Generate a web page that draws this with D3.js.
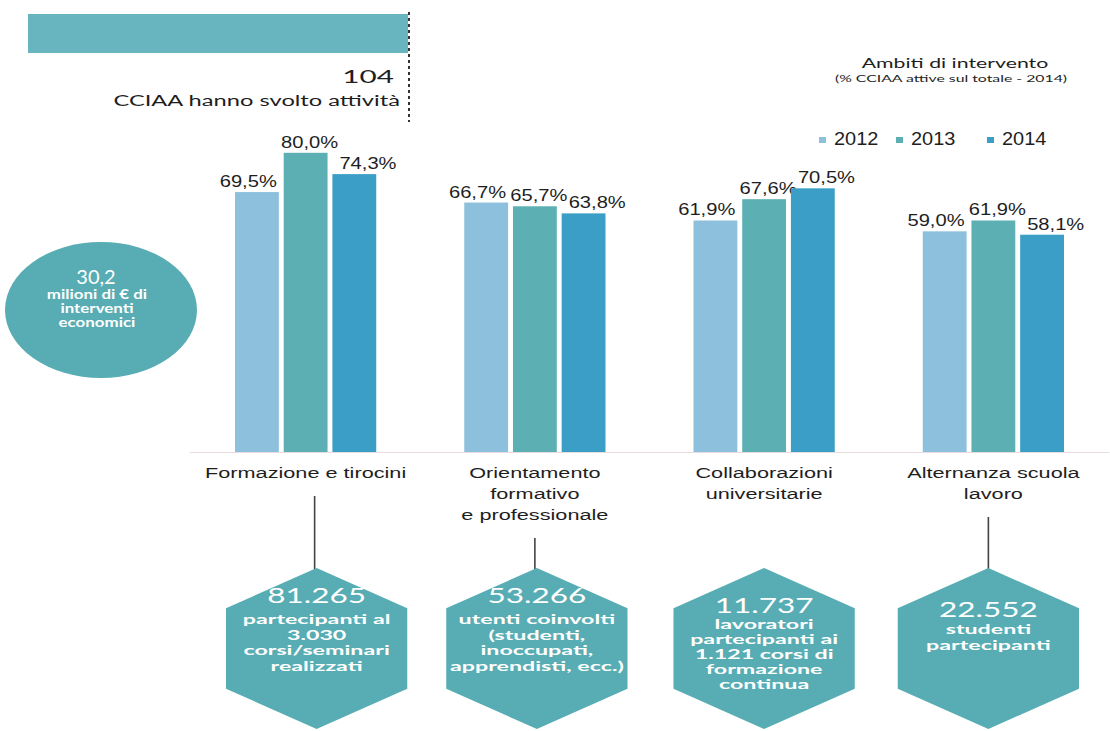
<!DOCTYPE html>
<html>
<head>
<meta charset="utf-8">
<script src="https://cdn.jsdelivr.net/npm/d3@7"></script>
<style>
  html, body { margin: 0; padding: 0; background: #ffffff; }
  svg { display: block; }
</style>
</head>
<body>
<script>
// ---- data ----
const categoryLines = [
  ["Formazione e tirocini"],
  ["Orientamento", "formativo", "e professionale"],
  ["Collaborazioni", "universitarie"],
  ["Alternanza scuola", "lavoro"]
];
const categories = categoryLines.map(l => l.join(" "));
const years = ["2012", "2013", "2014"];
const values2012 = [69.5, 66.7, 61.9, 59.0];
const values2013 = [80.0, 65.7, 67.6, 61.9];
const values2014 = [74.3, 63.8, 70.5, 58.1];
const seriesValues = [values2012, values2013, values2014];

const chambersActive = 104;
const chambersLabel = "CCIAA hanno svolto attività";
const fundingValue = "30,2";
const fundingLines = ["milioni di € di", "interventi", "economici"];

const hexNumbers = ["81.265", "53.266", "11.737", "22.552"];
const hexLines = [
  ["partecipanti al", "3.030", "corsi/seminari", "realizzati"],
  ["utenti coinvolti", "(studenti,", "inoccupati,", "apprendisti, ecc.)"],
  ["lavoratori", "partecipanti ai", "1.121 corsi di", "formazione", "continua"],
  ["studenti", "partecipanti"]
];
const hasConnector = [true, true, false, true];

const titleText = "Ambiti di intervento";
const subtitleText = "(% CCIAA attive sul totale - 2014)";

// ---- styling ----
const W = 1110, H = 731;
const colors = ["#8dc0dc", "#5cb0b3", "#3a9ec6"];
const tealBar = "#69b5bf";
const tealShape = "#57adb3";
const ink = "#1e1e1e";
const sansA = "'Liberation Sans', Arial, sans-serif";
const sansB = "Lato, 'Open Sans', sans-serif";

const svg = d3.select("body").append("svg")
  .attr("width", W).attr("height", H)
  .attr("viewBox", `0 0 ${W} ${H}`);

// text helper: horizontally widened type
function label(parent, txt, x, y, opts) {
  const o = Object.assign({ size: 14, family: sansA, anchor: "middle", sx: 1, fill: ink, weight: 400, ls: 0 }, opts || {});
  return parent.append("text")
    .attr("transform", `translate(${x},${y}) scale(${o.sx},1)`)
    .attr("text-anchor", o.anchor)
    .attr("font-family", o.family)
    .attr("font-size", o.size)
    .attr("font-weight", o.weight)
    .attr("letter-spacing", o.ls)
    .attr("fill", o.fill)
    .text(txt);
}

// ---- scales ----
const x0 = d3.scaleBand().domain(categories).range([191, 1108])
  .paddingInner(0.384).paddingOuter(0.192);
const x1 = d3.scaleBand().domain(years).range([0, x0.bandwidth()])
  .paddingInner(0.1).paddingOuter(0);
const y = d3.scaleLinear().domain([0, 100]).range([452, 78]);
const color = d3.scaleOrdinal().domain(years).range(colors);
const it = d3.formatLocale({ decimal: ",", thousands: ".", grouping: [3], currency: ["€", ""] });
const pct = v => it.format(".1f")(v) + "%";

// ---- top summary bar ----
const topScale = d3.scaleLinear().domain([0, chambersActive]).range([28, 408]);
svg.append("rect")
  .attr("x", topScale(0)).attr("y", 14)
  .attr("width", topScale(chambersActive) - topScale(0)).attr("height", 39)
  .attr("fill", tealBar);
svg.append("line")
  .attr("x1", topScale(chambersActive) + 1).attr("x2", topScale(chambersActive) + 1)
  .attr("y1", 12).attr("y2", 122)
  .attr("stroke", ink).attr("stroke-width", 1.8).attr("stroke-dasharray", "3,3");
label(svg, String(chambersActive), 394, 83, { size: 18, family: sansB, anchor: "end", sx: 1.65 });
label(svg, chambersLabel, 400, 106, { size: 16, family: sansB, anchor: "end", sx: 1.48 });

// ---- title ----
label(svg, titleText, 955, 68, { size: 14, family: sansB, sx: 1.52 });
label(svg, subtitleText, 951, 82, { size: 10, family: sansB, sx: 1.58 });

// ---- legend ----
const legendX = [819, 896, 987];
const legend = svg.append("g");
years.forEach((yr, i) => {
  legend.append("rect").attr("x", legendX[i]).attr("y", 137)
    .attr("width", 7).attr("height", 6).attr("fill", color(yr));
  label(legend, yr, legendX[i] + 15, 145, { size: 19, anchor: "start", sx: 1.05 });
});

// ---- funding ellipse ----
const circ = svg.append("g");
circ.append("ellipse").attr("cx", 101).attr("cy", 310).attr("rx", 96).attr("ry", 68)
  .attr("fill", tealShape);
label(circ, fundingValue, 96, 284, { size: 20, family: sansB, fill: "#ffffff", sx: 1.0 });
fundingLines.forEach((t, i) => {
  label(circ, t, 97, 299 + i * 14, { size: 13, family: sansB, weight: 700, fill: "#ffffff", sx: 1.3 });
});

// ---- grouped bars ----
const groups = svg.append("g").selectAll("g")
  .data(categories).join("g")
  .attr("transform", d => `translate(${x0(d)},0)`);

// faint baseline under each group
groups.append("line")
  .attr("x1", x0.bandwidth() / 2 - 116).attr("x2", x0.bandwidth() / 2 + 116)
  .attr("y1", y(0) + 0.5).attr("y2", y(0) + 0.5)
  .attr("stroke", "#e6dede").attr("stroke-width", 1);

groups.each(function (cat, ci) {
  const g = d3.select(this);
  years.forEach((yr, si) => {
    const v = seriesValues[si][ci];
    g.append("rect")
      .attr("x", x1(yr)).attr("y", y(v))
      .attr("width", x1.bandwidth()).attr("height", y(0) - y(v))
      .attr("fill", color(yr));
    // value labels fan out so neighbours do not collide
    let lx, anchor;
    if (si === 0) { lx = x1(yr) + x1.bandwidth() - 2; anchor = "end"; }
    else if (si === 1) { lx = x1(yr) + x1.bandwidth() / 2 + 4; anchor = "middle"; }
    else { lx = x1(yr) + 7; anchor = "start"; }
    label(g, pct(v), lx, y(v) - 5, { size: 16, anchor, sx: 1.26 });
  });
});

// ---- category labels, connectors and hexagons ----
const hexTop = 568, hexR = 80.5, hexSx = 1.3;
const hexNudge = [11, 2, 0, -5];
const lineNudge = [9, 0, 0, -5];
const hexNumberY = [603, 603, 613, 617];
const hexFirstGap = [21, 21, 16, 17];
const hexSpacing = [15.5, 15.5, 15, 15.5];
const hexTextSize = [14, 14, 13.5, 14];

const hexPath = (cx, cy) => {
  const pts = d3.range(6).map(k => {
    const a = -Math.PI / 2 + k * Math.PI / 3;
    return [cx + Math.cos(a) * hexR * hexSx, cy + Math.sin(a) * hexR];
  });
  return d3.line()(pts) + "Z";
};

categories.forEach((cat, ci) => {
  const cx = x0(cat) + x0.bandwidth() / 2;
  const lines = categoryLines[ci];
  lines.forEach((t, li) => {
    label(svg, t, cx, 478 + li * 21, { size: 15.5, anchor: "middle", sx: 1.4 });
  });
  const lastBase = 478 + (lines.length - 1) * 21;
  if (hasConnector[ci]) {
    svg.append("line")
      .attr("x1", cx + lineNudge[ci]).attr("x2", cx + lineNudge[ci])
      .attr("y1", lastBase + 18).attr("y2", hexTop + 2)
      .attr("stroke", "#444").attr("stroke-width", 1.6);
  }
  const hx = cx + hexNudge[ci];
  svg.append("path")
    .attr("d", hexPath(hx, hexTop + hexR))
    .attr("fill", tealShape);
  label(svg, hexNumbers[ci], hx, hexNumberY[ci], { size: 21, family: sansB, fill: "#ffffff", sx: 1.5 });
  hexLines[ci].forEach((t, li) => {
    label(svg, t, hx, hexNumberY[ci] + hexFirstGap[ci] + li * hexSpacing[ci],
      { size: hexTextSize[ci], family: sansB, weight: 700, fill: "#ffffff", sx: 1.66 * 14 / hexTextSize[ci] });
  });
});
</script>
</body>
</html>
